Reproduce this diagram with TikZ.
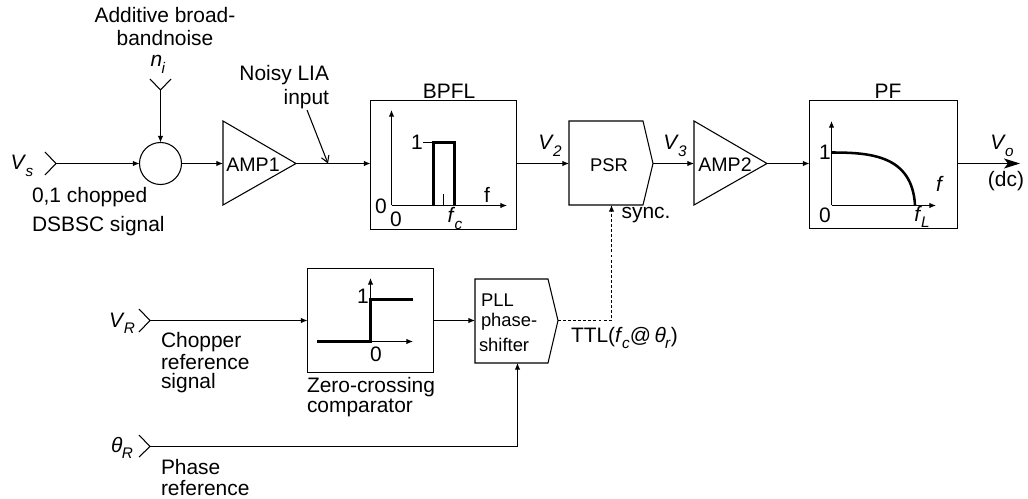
\documentclass[tikz,border=0pt]{standalone}
\usepackage{fontspec}
\setmainfont{Liberation Sans}
\usetikzlibrary{arrows.meta}
\newcommand{\sbs}[2]{\textit{#1}\kern-0.5pt\raisebox{-0.3em}{\fontsize{11.5pt}{12pt}\selectfont\textit{#2}}}
\tikzset{
  ln/.style={line width=0.8pt,line join=miter},
  arr/.style={ln,-{Latex[length=5pt,width=4.2pt]}},
  thk/.style={line width=1.9pt},
  txt/.style={inner sep=0pt,outer sep=0pt,font=\fontsize{15.7pt}{17pt}\selectfont},
  sm/.style={inner sep=0pt,outer sep=0pt,font=\fontsize{13.8pt}{16pt}\selectfont},
  lft/.style={txt,anchor=west},
  bs/.style={txt,anchor=base},
  boxn/.style={ln,draw,rectangle,inner sep=0pt,outer sep=0pt},
}
\begin{document}
\begin{tikzpicture}[x=0.75pt,y=-0.75pt]
\useasboundingbox (0,0) rectangle (1028,499);
% input chevrons
\coordinate (vstip) at (56,163.5);
\draw[ln] (45,152) -- (vstip) -- (45,175);
\coordinate (nitip) at (160.5,90);
\draw[ln] (150,79) -- (nitip) -- (171,79);
\coordinate (vrtip) at (150,320.5);
\draw[ln] (139,309) -- (vrtip) -- (139,332);
\coordinate (thtip) at (150,446.5);
\draw[ln] (139,435) -- (thtip) -- (139,457);
% summing circle
\node[ln,draw,circle,minimum size=31.5pt,inner sep=0pt,outer sep=0pt] (sum) at (160.5,163.5) {};
% AMP1
\coordinate (a1in) at (223,163.5);
\coordinate (a1out) at (296,163.5);
\draw[ln] (223,121) -- (a1out) -- (223,205) -- cycle;
\node[txt,font=\fontsize{14.7pt}{17pt}\selectfont] (amp1) at (253,164.5) {AMP1};
% BPFL
\node[boxn,minimum width=109.5pt,minimum height=96.75pt] (bpfl) at (443.5,165) {};
\node[txt] (bpfllab) at (449,91) {BPFL};
% PSR
\coordinate (psrin) at (569,163.5);
\coordinate (psrout) at (653,163.5);
\coordinate (psrsync) at (611.5,205);
\draw[ln] (569,121) -- (643,121) -- (psrout) -- (643,205) -- (569,205) -- cycle;
\node[sm] (psr) at (609,165) {PSR};
% AMP2
\coordinate (a2in) at (694,163.5);
\coordinate (a2out) at (767,163.5);
\draw[ln] (694,121) -- (a2out) -- (694,205) -- cycle;
\node[txt,font=\fontsize{14.7pt}{17pt}\selectfont] (amp2) at (725,164.5) {AMP2};
% PF
\node[boxn,minimum width=111pt,minimum height=96pt] (pf) at (883.5,164.5) {};
\node[txt] (pflab) at (888,91) {PF};
\coordinate (voend) at (1020,163.5);
% comparator
\node[boxn,minimum width=94.5pt,minimum height=78pt] (comp) at (370.5,320.5) {};
% PLL
\coordinate (pllin) at (475,320.5);
\coordinate (pllout) at (558,320.5);
\coordinate (pllth) at (517.5,363);
\draw[ln] (475,279) -- (548,279) -- (pllout) -- (548,363) -- (475,363) -- cycle;
\node[sm,anchor=west] (pll1) at (481,300) {PLL};
\node[sm,anchor=west] (pll2) at (481,322) {phase-};
\node[sm,anchor=west] (pll3) at (479,345) {shifter};
% connectors
\draw[arr] (vstip) -- (sum);
\draw[arr] (nitip) -- (sum);
\draw[arr] (sum) -- (a1in);
\draw[arr] (a1out) -- (bpfl.west |- a1out);
\draw[arr] (bpfl.east |- psrin) -- (psrin);
\draw[arr] (psrout) -- (a2in);
\draw[arr] (a2out) -- (pf.west |- a2out);
\draw[ln,-{Stealth[length=12pt,width=7.5pt,inset=3pt]}] (pf.east |- voend) -- (voend);
\draw[arr] (vrtip) -- (comp);
\draw[arr] (comp.east) -- (pllin);
\draw[arr] (thtip) -| (pllth);
\draw[ln,dash pattern=on 2.2pt off 1.6pt,-{Latex[length=5pt,width=4.2pt,sep=0pt]}] (pllout) -| (psrsync);
\coordinate (noisyarrowstart) at (307,110);
\coordinate (noisyarrowend) at (328,163.5);
\draw[ln,-{Straight Barb[length=5pt,width=6pt]}] (noisyarrowstart) -- (noisyarrowend);
% BPFL plot
\coordinate (bo) at (391.5,205.5);
\draw[arr] (bo) -- (391.5,110);
\draw[arr] (bo) -- (507,205.5);
\draw[thk,line join=miter] (433.5,205.5) -- (433.5,142.5) -- (454.5,142.5) -- (454.5,205.5);
\draw[ln] (423,142.5) -- (433,142.5);
\draw[line width=0.6pt] (443.5,205) -- (443.5,194);
\node[txt] (b1) at (417,142.5) {1};
\node[txt] (b0a) at (381,206) {0};
\node[txt] (b0b) at (396,219) {0};
\node[bs] (bfc) at (455,223) {\sbs{f}{c}};
\node[txt] (bf) at (487,195) {f};
% PF plot
\coordinate (po) at (831.5,205.5);
\draw[arr] (po) -- (831.5,121);
\draw[arr] (po) -- (936,205.5);
\draw[thk] (831,152.5) .. controls (870,152.5) and (912,155) .. (915,205);
\node[txt] (p1) at (825,152.5) {1};
\node[txt] (p0) at (825,215) {0};
\node[txt] (pf1) at (940,184) {\textit{f}};
\node[bs] (pfl) at (922,221) {\sbs{f}{L}};
% comparator plot
\coordinate (co) at (370.5,341.5);
\draw[arr] (370.5,300) -- (370.5,278);
\draw[arr] (co) -- (413,341.5);
\draw[thk] (317,341.5) -- (co) -- (370.5,299.5) -- (413,299.5);
\node[txt] (c1) at (363,296) {1};
\node[txt] (c0) at (376,354) {0};
% labels
\node[txt] (l1) at (165,15) {Additive broad-};
\node[txt] (l2) at (165,38) {bandnoise};
\node[bs] (ni) at (158,67) {\sbs{n}{i}};
\node[bs] (vs) at (22,170) {\sbs{V}{s}};
\node[lft] (l3) at (32,197) {0,1 chopped};
\node[lft] (l4) at (32,226) {DSBSC signal};
\node[txt,anchor=east] (l5) at (329,75) {Noisy LIA};
\node[txt,anchor=east] (l6) at (329,99) {input};
\node[bs] (v2) at (550,150) {\sbs{V}{2}};
\node[bs] (v3) at (675,150) {\sbs{V}{3}};
\node[bs] (vo) at (1002,150) {\sbs{V}{o}};
\node[txt] (dc) at (1006,181) {(dc)};
\node[txt] (sync) at (646,215) {sync.};
\node[bs] (vr) at (122,327) {\sbs{V}{R}};
\node[bs] (tr) at (122,452) {\sbs{θ}{R}};
\node[lft] (l7) at (161,342) {Chopper};
\node[lft] (l8) at (161,362) {reference};
\node[lft] (l9) at (161,383) {signal};
\node[lft] (l10) at (307,387) {Zero-crossing};
\node[lft] (l11) at (307,408) {comparator};
\node[lft] (l12) at (161,467) {Phase};
\node[lft] (l13) at (161,488) {reference};
\node[txt,anchor=base west] (ttl) at (571,342) {TTL(\sbs{f}{c}@\,\sbs{θ}{r})};
\end{tikzpicture}
\end{document}
